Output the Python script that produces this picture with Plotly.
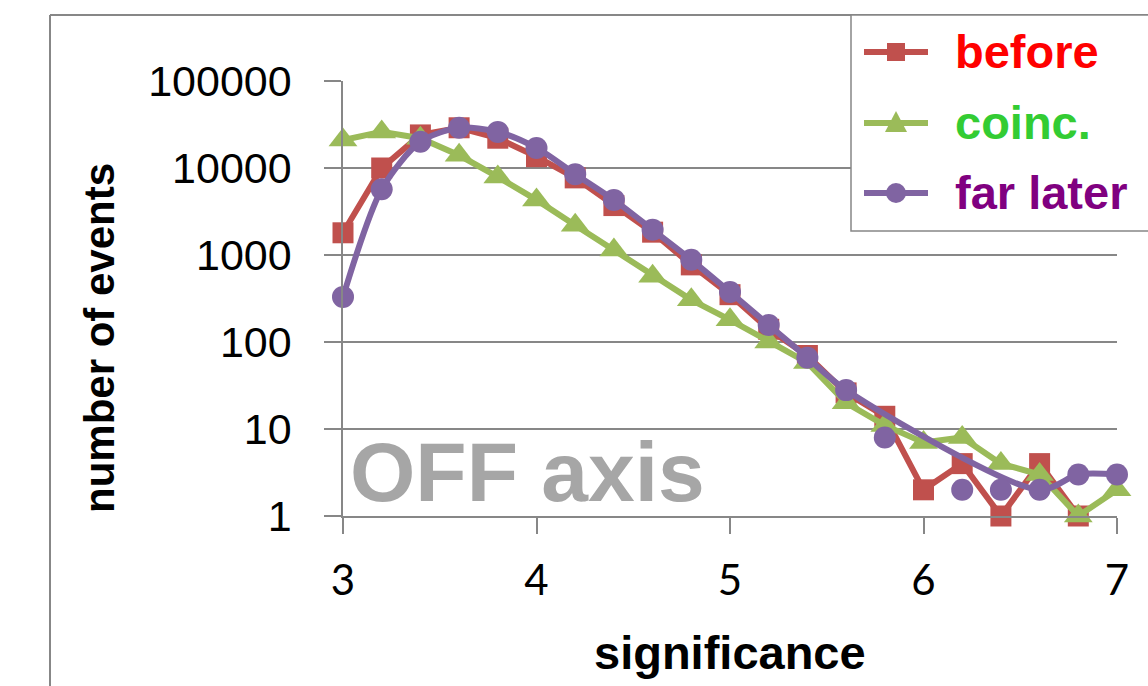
import plotly.graph_objects as go

significance = [3.0, 3.2, 3.4, 3.6, 3.8, 4.0, 4.2, 4.4, 4.6, 4.8, 5.0,
                5.2, 5.4, 5.6, 5.8, 6.0, 6.2, 6.4, 6.6, 6.8, 7.0]
before = [1800, 10000, 24000, 29000, 22000, 13500, 7700, 3700, 1830, 770, 350,
          140, 70, 26, 14, 2, 4, 1, 4, 1, None]
coinc = [21000, 26000, 22000, 14000, 7900, 4300, 2200, 1140, 570, 305, 180,
         100, 58, 20, 11, 7, 8, 4, 3, 1, 2]
far_later = [330, 5700, 20000, 29000, 26000, 17000, 8500, 4300, 1950, 880, 375,
             157, 66, 28, 8, None, 2, 2, 2, 3, 3]
# points of "far later" joined by its smoothed line
far_later_on_line = [True] * 14 + [False, False, False, False] + [True, True, True]

series_names = ["before", "coinc.", "far later"]
series_text_colors = ["#ff0000", "#33cc33", "#800080"]

y_ticks = [1, 10, 100, 1000, 10000, 100000]
y_tick_labels = ["1", "10", "100", "1000", "10000", "100000"]
x_ticks = [3, 4, 5, 6, 7]
x_tick_labels = ["3", "4", "5", "6", "7"]

RED, GREEN, PURPLE = "#c0504d", "#9bbb59", "#8064a2"
GRAY = "#878787"
LW = 6

far_line = [v if on else None for v, on in zip(far_later, far_later_on_line)]
far_off = [v if not on else None for v, on in zip(far_later, far_later_on_line)]

fig = go.Figure()
fig.add_trace(go.Scatter(
    x=significance, y=before, mode="lines+markers", name=series_names[0],
    line=dict(color=RED, width=LW),
    marker=dict(symbol="square", size=21, color=RED),
    cliponaxis=False))
fig.add_trace(go.Scatter(
    x=significance, y=coinc, mode="lines+markers", name=series_names[1],
    line=dict(color=GREEN, width=LW),
    marker=dict(symbol="triangle-up", size=25, color=GREEN),
    cliponaxis=False))
fig.add_trace(go.Scatter(
    x=significance, y=far_line, mode="lines+markers", connectgaps=True,
    name=series_names[2],
    line=dict(color=PURPLE, width=LW, shape="spline", smoothing=0.8),
    marker=dict(symbol="circle", size=22, color=PURPLE),
    cliponaxis=False))
fig.add_trace(go.Scatter(
    x=significance, y=far_off, mode="markers", name=series_names[2],
    marker=dict(symbol="circle", size=22, color=PURPLE),
    cliponaxis=False))

L, R, T, B = 343, 31, 81, 170
W, H = 1148, 686
pw, ph = W - L - R, H - T - B


def px(xp):
    return (xp - L) / pw


def py(yp):
    return (H - B - yp) / ph


shapes = [
    dict(type="line", xref="paper", yref="paper", x0=px(50), x1=px(50),
         y0=py(15), y1=py(720), line=dict(color=GRAY, width=2)),
    dict(type="line", xref="paper", yref="paper", x0=px(50), x1=px(1200),
         y0=py(15), y1=py(15), line=dict(color=GRAY, width=2)),
    # legend box
    dict(type="rect", xref="paper", yref="paper", layer="above",
         x0=px(851), x1=px(1200), y0=py(15), y1=py(231),
         fillcolor="white", line=dict(color=GRAY, width=1.5)),
]
annotations = [
    dict(text="<b>significance</b>", x=0.5, y=py(652), xref="paper", yref="paper",
         showarrow=False, xanchor="center", yanchor="middle",
         font=dict(family="Liberation Sans, Arial", size=47, color="black")),
    dict(text="<b>number of events</b>", x=px(100), y=py(338), xref="paper",
         yref="paper", showarrow=False, textangle=-90,
         xanchor="center", yanchor="middle",
         font=dict(family="Liberation Sans, Arial", size=42, color="black")),
    dict(text="<b>OFF axis</b>", x=px(348), y=py(472), xref="paper", yref="paper",
         showarrow=False, xanchor="left", yanchor="middle",
         font=dict(family="Liberation Sans, Arial", size=84, color="#a6a6a6")),
]

# legend entries (drawn by hand to match the reference layout)
legend_rows = [52, 123, 193]
line_colors = [RED, GREEN, PURPLE]
for i, (yy, col) in enumerate(zip(legend_rows, line_colors)):
    shapes.append(dict(type="line", xref="paper", yref="paper", layer="above",
                       x0=px(864), x1=px(928), y0=py(yy), y1=py(yy),
                       line=dict(color=col, width=LW)))
    cx = 896
    if i == 0:
        shapes.append(dict(type="rect", xref="paper", yref="paper", layer="above",
                           x0=px(cx - 9), x1=px(cx + 9), y0=py(yy - 9), y1=py(yy + 9),
                           fillcolor=col, line=dict(width=0)))
    elif i == 1:
        path = "M {},{} L {},{} L {},{} Z".format(
            px(cx - 11), py(yy + 9), px(cx + 11), py(yy + 9), px(cx), py(yy - 12))
        shapes.append(dict(type="path", xref="paper", yref="paper", layer="above",
                           path=path, fillcolor=col, line=dict(width=0)))
    else:
        shapes.append(dict(type="circle", xref="paper", yref="paper", layer="above",
                           x0=px(cx - 10), x1=px(cx + 10), y0=py(yy - 10), y1=py(yy + 10),
                           fillcolor=col, line=dict(width=0)))
    annotations.append(dict(
        text="<b>{}</b>".format(series_names[i]), x=px(953), y=py(yy - 1),
        xref="paper", yref="paper", showarrow=False, xanchor="left", yanchor="middle",
        font=dict(family="Liberation Sans, Arial", size=47, color=series_text_colors[i])))

fig.update_layout(
    width=W, height=H,
    margin=dict(l=L, r=R, t=T, b=B),
    paper_bgcolor="white", plot_bgcolor="white",
    showlegend=False,
    xaxis=dict(range=[3, 7], tickvals=x_ticks, ticktext=x_tick_labels,
               showgrid=False, zeroline=False, showline=True,
               linecolor=GRAY, linewidth=1.5,
               ticks="outside", ticklen=16, tickwidth=1.5, tickcolor=GRAY,
               tickfont=dict(family="Lato", size=42, color="black"),
               ticklabelstandoff=11),
    yaxis=dict(type="log", range=[0, 5], tickvals=y_ticks, ticktext=y_tick_labels,
               showgrid=True, gridcolor=GRAY, gridwidth=1.5, zeroline=False,
               showline=True, linecolor=GRAY, linewidth=1.5,
               ticks="outside", ticklen=17, tickwidth=1.5, tickcolor=GRAY,
               tickfont=dict(family="Liberation Sans, Arial", size=43, color="black"),
               ticklabelstandoff=24),
    annotations=annotations,
    shapes=shapes,
)

fig.write_html("out.html", config={"displayModeBar": False},
               post_script="document.body.style.margin='0px';")
